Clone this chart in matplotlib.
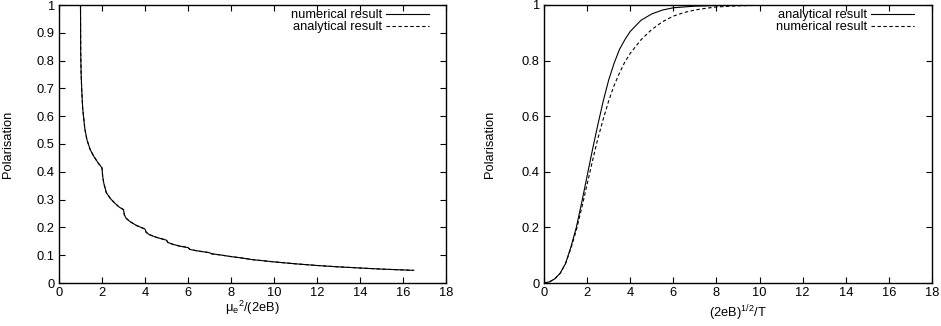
import matplotlib
matplotlib.use("Agg")
import matplotlib.pyplot as plt
from matplotlib.ticker import FuncFormatter, MultipleLocator

FS = 9.3
plt.rcParams["font.family"] = ["Liberation Sans", "DejaVu Sans"]
plt.rcParams["mathtext.fontset"] = "custom"
plt.rcParams["mathtext.rm"] = "Liberation Sans"
plt.rcParams["mathtext.it"] = "Liberation Sans"
plt.rcParams["font.size"] = FS

# left panel: polarisation vs mu_e^2/(2eB)
left_x = [1.0, 1.01, 1.03, 1.06, 1.1, 1.2, 1.3, 1.45, 1.6, 1.8, 2.0,
          2.03, 2.08, 2.2, 2.4, 2.6, 2.8, 3.0,
          3.04, 3.12, 3.3, 3.6, 4.0,
          4.05, 4.2, 4.5, 5.0,
          5.06, 5.3, 5.6, 6.0,
          6.08, 6.4, 7.0, 7.1, 7.5, 8.0, 8.5, 9.0, 9.5, 10.0,
          11.0, 12.0, 13.0, 14.0, 15.0, 16.0, 16.5]
left_numerical = [1.0, 0.83, 0.75, 0.69, 0.63, 0.555, 0.515, 0.48, 0.458, 0.434, 0.414,
                  0.385, 0.36, 0.325, 0.303, 0.287, 0.273, 0.264,
                  0.245, 0.233, 0.221, 0.207, 0.194,
                  0.183, 0.174, 0.165, 0.154,
                  0.146, 0.139, 0.133, 0.1275,
                  0.121, 0.116, 0.109, 0.105, 0.101, 0.095, 0.09, 0.084, 0.08, 0.076,
                  0.069, 0.063, 0.058, 0.054, 0.05, 0.047, 0.0455]
left_analytical = list(left_numerical)

# right panel: polarisation vs (2eB)^{1/2}/T
right_x_an = [0, 0.25, 0.5, 0.75, 1.0, 1.25, 1.5, 1.75, 2.0, 2.25, 2.5, 2.75,
              3.0, 3.25, 3.5, 3.75, 4.0, 4.5, 5.0, 5.5, 6.0, 7, 8, 10, 12, 14, 16, 18]
right_analytical = [0, 0.004, 0.015, 0.035, 0.07, 0.13, 0.2, 0.29, 0.385, 0.48, 0.57, 0.655,
                    0.73, 0.79, 0.84, 0.875, 0.905, 0.945, 0.968, 0.982, 0.99, 0.996, 0.998,
                    1, 1, 1, 1, 1]
right_x_num = [0, 0.25, 0.5, 0.75, 1.0, 1.25, 1.5, 1.75, 2.0, 2.25, 2.5, 2.75,
               3.0, 3.25, 3.5, 3.75, 4.0, 4.5, 5.0, 5.5, 6.0, 6.5, 7, 7.5, 8, 9, 10,
               12, 14, 16, 18]
right_numerical = [0, 0.004, 0.015, 0.035, 0.07, 0.125, 0.19, 0.27, 0.355, 0.44, 0.52, 0.59,
                   0.655, 0.71, 0.755, 0.795, 0.826, 0.875, 0.912, 0.94, 0.96, 0.973, 0.982,
                   0.988, 0.993, 0.997, 0.999, 1, 1, 1, 1]

LW = 0.8
DASH = (0, (3.1, 2.25))

fig = plt.figure(figsize=(9.41, 3.26), dpi=100)
ax1 = fig.add_axes([59 / 941, 43 / 326, 387 / 941, 278 / 326])
ax2 = fig.add_axes([544 / 941, 43 / 326, 388 / 941, 278 / 326])

fmt = FuncFormatter(lambda v, p: "%g" % round(v, 6))


def style_axis(ax, ystep):
    ax.set_xlim(0, 18)
    ax.set_ylim(0, 1)
    ax.xaxis.set_major_locator(MultipleLocator(2))
    ax.yaxis.set_major_locator(MultipleLocator(ystep))
    ax.xaxis.set_major_formatter(fmt)
    ax.yaxis.set_major_formatter(fmt)
    ax.tick_params(direction="in", length=4, width=0.8, top=True, right=True,
                   pad=3, labelsize=FS)
    for s in ax.spines.values():
        s.set_linewidth(1.0)
    ax.set_ylabel("Polarisation", fontsize=FS)


def add_legend(ax, xr):
    ax.legend(loc="upper right", bbox_to_anchor=(xr, 0.99), frameon=False,
              markerfirst=False, handlelength=3.3, handletextpad=0.3,
              labelspacing=0.0, borderpad=0.0, borderaxespad=0.1, fontsize=FS)


# left
ax1.plot(left_x, left_numerical, color="black", lw=LW, label="numerical result")
ax1.plot(left_x, left_analytical, color="black", lw=LW, ls=DASH, label="analytical result")
style_axis(ax1, 0.1)
ax1.set_xlabel(r"$\mathregular{\mu_e{}^2/(2eB)}$", fontsize=FS)
ax1.xaxis.set_label_coords(0.5, -0.056)
ax1.yaxis.set_label_coords(-0.116, 0.5)
add_legend(ax1, 0.959)

# right
ax2.plot(right_x_an, right_analytical, color="black", lw=LW, label="analytical result")
ax2.plot(right_x_num, right_numerical, color="black", lw=LW, ls=DASH, label="numerical result")
style_axis(ax2, 0.2)
ax2.set_xlabel(r"$\mathregular{(2eB)^{1/2}/T}$", fontsize=FS)
ax2.xaxis.set_label_coords(0.5, -0.075)
ax2.yaxis.set_label_coords(-0.124, 0.5)
add_legend(ax2, 0.956)

fig.savefig("out.png", dpi=100)
